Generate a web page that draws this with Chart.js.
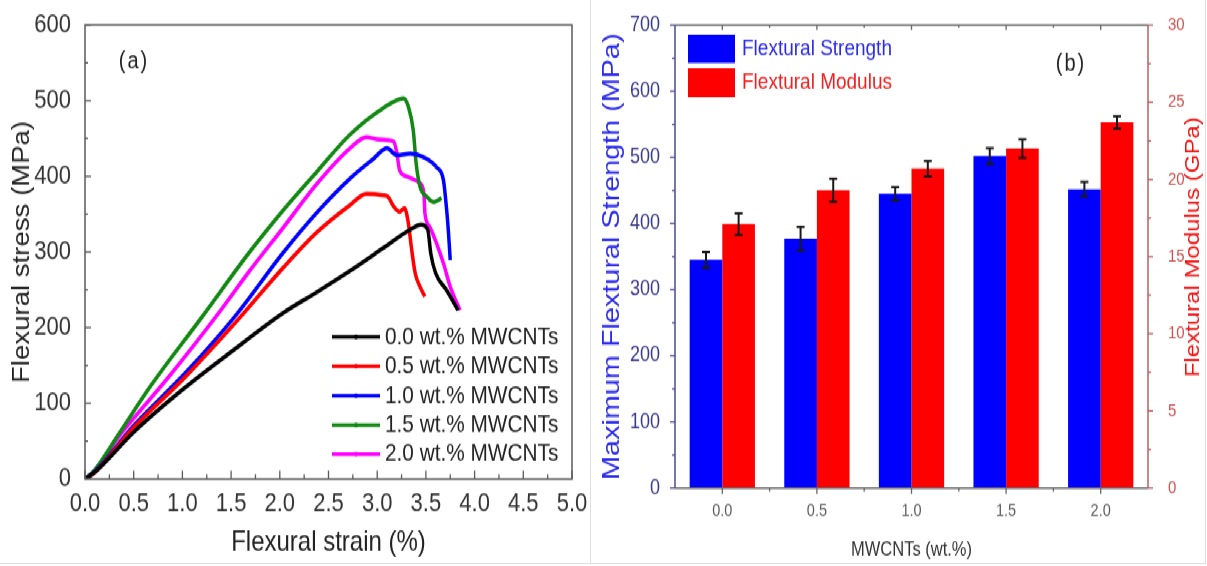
<!DOCTYPE html>
<html>
<head>
<meta charset="utf-8">
<title>Flexural properties vs MWCNT loading</title>
<script src="https://cdn.jsdelivr.net/npm/chart.js@4.4.1/dist/chart.umd.min.js"></script>
<style>
  html, body { margin: 0; padding: 0; background: #fff; overflow: hidden; width: 1207px; height: 566px; }
  #outer { position: relative; width: 1207px; height: 566px; overflow: hidden; }
  /* the source figure is stretched vertically by about 1.2 */
  #stage { position: absolute; left: 0; top: 0; width: 1207px; height: 472px; transform: scaleY(1.2); transform-origin: 0 0; }
  #panelA { position: absolute; left: 0; top: 0; width: 590px; height: 472px; }
  #panelB { position: absolute; left: 592px; top: 0; width: 615px; height: 472px; }
  canvas { display: block; }
  .rule { position: absolute; background: #dedede; }
</style>
</head>
<body>
<div id="outer">
<div id="stage">
  <div id="panelA"><canvas id="chartA" width="590" height="472"></canvas></div>
  <div id="panelB"><canvas id="chartB" width="615" height="472"></canvas></div>
  <div class="rule" style="left:590px;top:0;width:1px;height:470px"></div>
  <div class="rule" style="left:1205px;top:0;width:1px;height:470px"></div>
  <div class="rule" style="left:0;top:469px;width:1206px;height:1px"></div>
</div>
</div>
<script>
// ---- (a) stress-strain curves ----
const strain00 = [0, 0.1, 0.5, 1.0, 1.5, 2.04, 2.38, 2.72, 3.06, 3.33, 3.45, 3.52, 3.55, 3.6, 3.71, 3.83];
const stress00 = [0, 9, 62, 118, 168, 220, 247, 275, 305, 329, 336, 329, 298, 272, 250, 223];

const strain05 = [0, 0.1, 0.5, 1.03, 1.54, 2.04, 2.38, 2.72, 2.89, 3.06, 3.11, 3.17, 3.23, 3.28, 3.32, 3.35, 3.39, 3.44, 3.49];
const stress05 = [0, 9, 68, 135, 206, 280, 326, 362, 377, 375, 373, 360, 353, 358, 338, 307, 272, 254, 241];

const strain10 = [0, 0.1, 0.51, 1.03, 1.54, 2.04, 2.38, 2.72, 2.96, 3.1, 3.2, 3.34, 3.48, 3.61, 3.68, 3.71, 3.73, 3.75];
const stress10 = [0, 10, 72, 140, 215, 300, 352, 397, 423, 437, 428, 430, 425, 412, 395, 360, 329, 289];

const strain15 = [0, 0.1, 0.34, 0.68, 1.2, 1.69, 2.04, 2.38, 2.72, 3.06, 3.27, 3.32, 3.37, 3.4, 3.44, 3.51, 3.58, 3.66];
const stress15 = [0, 12, 58, 124, 214, 300, 356, 406, 455, 490, 503, 492, 461, 417, 386, 373, 366, 371];

const strain20 = [0, 0.1, 0.34, 0.86, 1.37, 1.69, 2.04, 2.38, 2.72, 2.89, 2.99, 3.1, 3.17, 3.2, 3.23, 3.3, 3.37, 3.44, 3.48, 3.49, 3.54, 3.61, 3.68, 3.75, 3.85];
const stress20 = [0, 11, 55, 135, 219, 275, 333, 390, 437, 452, 449, 448, 446, 432, 408, 400, 396, 391, 377, 351, 333, 311, 285, 254, 223];

const curveLabels = ['0.0 wt.% MWCNTs', '0.5 wt.% MWCNTs', '1.0 wt.% MWCNTs', '1.5 wt.% MWCNTs', '2.0 wt.% MWCNTs'];
const curveColors = ['#000000', '#ff0000', '#0000ff', '#118811', '#ff00ff'];

// ---- (b) bar chart ----
const loadings = ['0.0', '0.5', '1.0', '1.5', '2.0'];
const strength = [345, 377, 445, 502, 452];
const strengthErr = [12, 18, 10, 12, 11];
const modulus = [17.1, 19.3, 20.7, 22.0, 23.7];
const modulusErr = [0.7, 0.75, 0.5, 0.6, 0.4];

const FONT = "'Liberation Sans', Arial, sans-serif";
Chart.defaults.font.family = FONT;

function seg(ctx, x1, y1, x2, y2) {
  ctx.beginPath(); ctx.moveTo(x1, y1); ctx.lineTo(x2, y2); ctx.stroke();
}

function toPoints(xs, ys) { return xs.map((x, i) => ({ x: x, y: ys[i] })); }

const curves = [[strain00, stress00], [strain05, stress05], [strain10, stress10], [strain15, stress15], [strain20, stress20]];

// frame, inward ticks, legend and panel letter for (a)
const decorA = {
  id: 'decorA',
  afterDraw(chart) {
    const { ctx, chartArea: a, scales: { x, y } } = chart;
    ctx.save();
    ctx.strokeStyle = '#5a5a5a';
    ctx.lineWidth = 1.5;
    ctx.strokeRect(a.left, a.top, a.right - a.left, a.bottom - a.top);
    ctx.lineWidth = 1.3;
    for (let v = 0; v <= 5.001; v += 0.25) {
      const px = x.getPixelForValue(v);
      const major = Math.abs(v * 2 - Math.round(v * 2)) < 1e-6;
      seg(ctx, px, a.bottom, px, a.bottom - (major ? 7 : 4));
    }
    for (let v = 0; v <= 600; v += 50) {
      const py = y.getPixelForValue(v);
      seg(ctx, a.left, py, a.left + (v % 100 === 0 ? 6 : 3), py);
    }
    // legend
    const rowY = [280.8, 305.2, 329.8, 354.2, 378.6];
    ctx.font = '20.8px ' + FONT;
    ctx.textBaseline = 'middle';
    ctx.textAlign = 'left';
    chart.data.datasets.forEach((ds, i) => {
      ctx.strokeStyle = ds.borderColor;
      ctx.lineWidth = 3;
      seg(ctx, 332, rowY[i], 380, rowY[i]);
      ctx.fillStyle = ds.borderColor;
      ctx.beginPath(); ctx.arc(356, rowY[i], 2, 0, Math.PI * 2); ctx.fill();
      ctx.fillStyle = '#222';
      ctx.fillText(ds.label, 385, rowY[i]);
    });
    ctx.font = '20px ' + FONT;
    ctx.fillStyle = '#222';
    ctx.textAlign = 'center';
    if ('letterSpacing' in ctx) ctx.letterSpacing = '2px';
    ctx.fillText('(a)', 134, 51.7);
    ctx.restore();
  }
};

new Chart(document.getElementById('chartA'), {
  type: 'line',
  data: {
    datasets: curves.map((c, i) => ({
      label: curveLabels[i],
      data: toPoints(c[0], c[1]),
      borderColor: curveColors[i],
      backgroundColor: curveColors[i],
      borderWidth: 3.5,
      pointRadius: 0,
      cubicInterpolationMode: 'monotone',
      fill: false
    }))
  },
  options: {
    responsive: false,
    animation: false,
    layout: { padding: { top: 20.8, right: 18, left: 0, bottom: 0 } },
    plugins: { legend: { display: false }, tooltip: { enabled: false } },
    scales: {
      x: {
        type: 'linear', min: 0, max: 5,
        grid: { display: false }, border: { display: false },
        ticks: { stepSize: 0.5, autoSkip: false, maxRotation: 0, padding: 0, color: '#333', font: { size: 22 },
                 callback: v => v.toFixed(1) },
        title: { display: true, text: 'Flexural strain (%)', color: '#222', font: { size: 24 }, padding: { top: 0, bottom: 5 } },
        afterFit: s => { s.height = 72.8; }
      },
      y: {
        min: 0, max: 600,
        grid: { display: false }, border: { display: false },
        ticks: { stepSize: 100, padding: 6, color: '#333', font: { size: 22 } },
        title: { display: true, text: 'Flexural stress (MPa)', color: '#222', font: { size: 23 }, padding: { top: 9, bottom: 0 } },
        afterFit: s => { s.width = 85; }
      }
    }
  },
  plugins: [decorA]
});

// error bars, axes, ticks, legend and panel letter for (b)
const decorB = {
  id: 'decorB',
  afterDraw(chart) {
    const { ctx, chartArea: a, scales: { x, y, y1 } } = chart;
    ctx.save();
    // error bars
    [[strength, strengthErr, y], [modulus, modulusErr, y1]].forEach((set, di) => {
      const [vals, errs, sc] = set;
      chart.getDatasetMeta(di).data.forEach((bar, j) => {
        const top = sc.getPixelForValue(vals[j] + errs[j]);
        const bot = sc.getPixelForValue(vals[j] - errs[j]);
        ctx.strokeStyle = '#1a1a1a';
        ctx.lineWidth = 2;
        seg(ctx, bar.x, top, bar.x, bot);
        seg(ctx, bar.x - 4, top, bar.x + 4, top);
        seg(ctx, bar.x - 4, bot, bar.x + 4, bot);
      });
    });
    // axis lines
    ctx.lineWidth = 1.5;
    ctx.strokeStyle = '#666';
    seg(ctx, a.left, a.bottom, a.right, a.bottom);
    seg(ctx, a.left, a.top, a.right, a.top);
    ctx.strokeStyle = '#4a4a8a';
    seg(ctx, a.left, a.top, a.left, a.bottom);
    ctx.strokeStyle = '#b86060';
    seg(ctx, a.right, a.top, a.right, a.bottom);
    // ticks
    ctx.lineWidth = 1.3;
    ctx.strokeStyle = '#666';
    loadings.forEach((l, j) => {
      const px = x.getPixelForValue(j);
      seg(ctx, px, a.bottom, px, a.bottom + 5);
      seg(ctx, px, a.top, px, a.top + 4);
      if (j < loadings.length - 1) {
        const m = (px + x.getPixelForValue(j + 1)) / 2;
        seg(ctx, m, a.bottom, m, a.bottom + 3);
        seg(ctx, m, a.top, m, a.top + 2);
      }
    });
    ctx.strokeStyle = '#4a4a8a';
    for (let v = 0; v <= 700; v += 50) {
      const py = y.getPixelForValue(v);
      seg(ctx, a.left, py, a.left - (v % 100 === 0 ? 5 : 3), py);
    }
    ctx.strokeStyle = '#b86060';
    for (let v = 0; v <= 30; v += 2.5) {
      const py = y1.getPixelForValue(v);
      seg(ctx, a.right, py, a.right + (v % 5 === 0 ? 5 : 3), py);
    }
    // right axis title, reading upward like the left one
    ctx.save();
    ctx.translate(601, 206);
    ctx.rotate(-Math.PI / 2);
    ctx.font = '20px ' + FONT;
    ctx.fillStyle = '#ee1111';
    ctx.textAlign = 'center';
    ctx.textBaseline = 'middle';
    ctx.fillText('Flextural Modulus (GPa)', 0, 0);
    ctx.restore();
    // legend
    ctx.font = '19px ' + FONT;
    ctx.textAlign = 'left';
    ctx.textBaseline = 'middle';
    const boxes = [[29, 52.5], [57, 81]];
    const textColors = ['#2a2ae8', '#ee2020'];
    chart.data.datasets.forEach((ds, i) => {
      ctx.fillStyle = ds.backgroundColor;
      ctx.fillRect(96, boxes[i][0], 47, boxes[i][1] - boxes[i][0]);
      ctx.fillStyle = textColors[i];
      ctx.fillText(ds.label, 150, (boxes[i][0] + boxes[i][1]) / 2);
    });
    ctx.font = '20px ' + FONT;
    ctx.fillStyle = '#222';
    ctx.textAlign = 'center';
    if ('letterSpacing' in ctx) ctx.letterSpacing = '2px';
    ctx.fillText('(b)', 479, 53.3);
    ctx.restore();
  }
};

new Chart(document.getElementById('chartB'), {
  type: 'bar',
  data: {
    labels: loadings,
    datasets: [
      { label: 'Flextural Strength', data: strength, backgroundColor: '#0000ff', yAxisID: 'y',
        categoryPercentage: 0.69, barPercentage: 1 },
      { label: 'Flextural Modulus', data: modulus, backgroundColor: '#ff0000', yAxisID: 'y1',
        categoryPercentage: 0.69, barPercentage: 1 }
    ]
  },
  options: {
    responsive: false,
    animation: false,
    layout: { padding: { top: 20.8, right: 0, left: 0, bottom: 0 } },
    plugins: { legend: { display: false }, tooltip: { enabled: false } },
    scales: {
      x: {
        grid: { display: false }, border: { display: false },
        ticks: { padding: 3, color: '#5a5a5a', font: { size: 14.5 } },
        title: { display: true, text: 'MWCNTs (wt.%)', color: '#333', font: { size: 16.5 }, padding: { top: 0, bottom: 4 } },
        afterFit: s => { s.height = 65.3; }
      },
      y: {
        position: 'left', min: 0, max: 700,
        grid: { display: false }, border: { display: false },
        ticks: { stepSize: 100, padding: 7, color: '#3a3a8a', font: { size: 18 } },
        title: { display: true, text: 'Maximum Flextural Strength (MPa)', color: '#2a2ae8', font: { size: 24 }, padding: { top: 5.6, bottom: 0 } },
        afterFit: s => { s.width = 83; }
      },
      y1: {
        position: 'right', min: 0, max: 30,
        grid: { display: false }, border: { display: false },
        ticks: { stepSize: 5, padding: 12, color: '#d05050', font: { size: 15 } },
        afterFit: s => { s.width = 59; }
      }
    }
  },
  plugins: [decorB]
});
</script>
</body>
</html>
